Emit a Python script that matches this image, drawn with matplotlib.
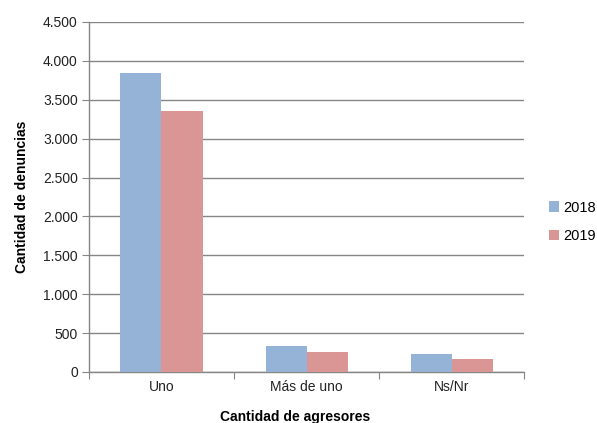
import matplotlib.pyplot as plt
import numpy as np
from matplotlib.ticker import FuncFormatter, FixedLocator, NullFormatter

plt.rcParams['font.family'] = ['Liberation Sans', 'DejaVu Sans']

categorias = ["Uno", "Más de uno", "Ns/Nr"]
anios = ["2018", "2019"]
valores_2018 = [3850, 330, 231]
valores_2019 = [3355, 262, 163]
colores = ["#95B3D7", "#D99694"]

fig = plt.figure(figsize=(5.97, 4.23), dpi=100)
ax = fig.add_axes([0.149, 0.1206, 0.729, 0.8274])

x = np.arange(len(categorias))
w = 0.283
ax.bar(x - w / 2, valores_2018, w, color=colores[0], label=anios[0], zorder=3)
ax.bar(x + w / 2, valores_2019, w, color=colores[1], label=anios[1], zorder=3)

ax.set_xlim(-0.5, len(categorias) - 0.5)
ax.set_ylim(0, 4500)
ax.set_yticks(np.arange(0, 4501, 500))
ax.yaxis.set_major_formatter(FuncFormatter(lambda v, p: f"{int(v):,}".replace(",", ".")))
ax.yaxis.grid(True, color="#868686", linewidth=1, zorder=0)

# categorias en el centro, ticks en los bordes
ax.xaxis.set_major_locator(FixedLocator(np.arange(-0.5, len(categorias), 1)))
ax.xaxis.set_major_formatter(NullFormatter())
ax.xaxis.set_minor_locator(FixedLocator(x))
ax.set_xticklabels(categorias, minor=True)
ax.tick_params(axis="x", which="minor", length=0, pad=6)
ax.tick_params(axis="x", which="major", length=5, direction="out", color="#868686")
ax.tick_params(axis="y", length=5, direction="out", color="#868686", pad=3)
ax.tick_params(labelsize=10, labelcolor="#222222")
ax.tick_params(axis="x", which="minor", labelsize=10, labelcolor="#222222")

for s in ["top", "right"]:
    ax.spines[s].set_visible(False)
for s in ["left", "bottom"]:
    ax.spines[s].set_color("#868686")
    ax.spines[s].set_linewidth(1)

ax.set_ylabel("Cantidad de denuncias", fontsize=10, fontweight="bold", labelpad=10)
ax.set_xlabel("Cantidad de agresores", fontsize=10, fontweight="bold")
ax.xaxis.set_label_coords(0.4736, -0.108)

ax.legend(loc="center left", bbox_to_anchor=(1.057, 0.4286), frameon=False,
          borderpad=0, borderaxespad=0,
          fontsize=10.5, handlelength=0.7, handleheight=0.7, handletextpad=0.3,
          labelspacing=1.0)

fig.savefig("out.png", dpi=100)
